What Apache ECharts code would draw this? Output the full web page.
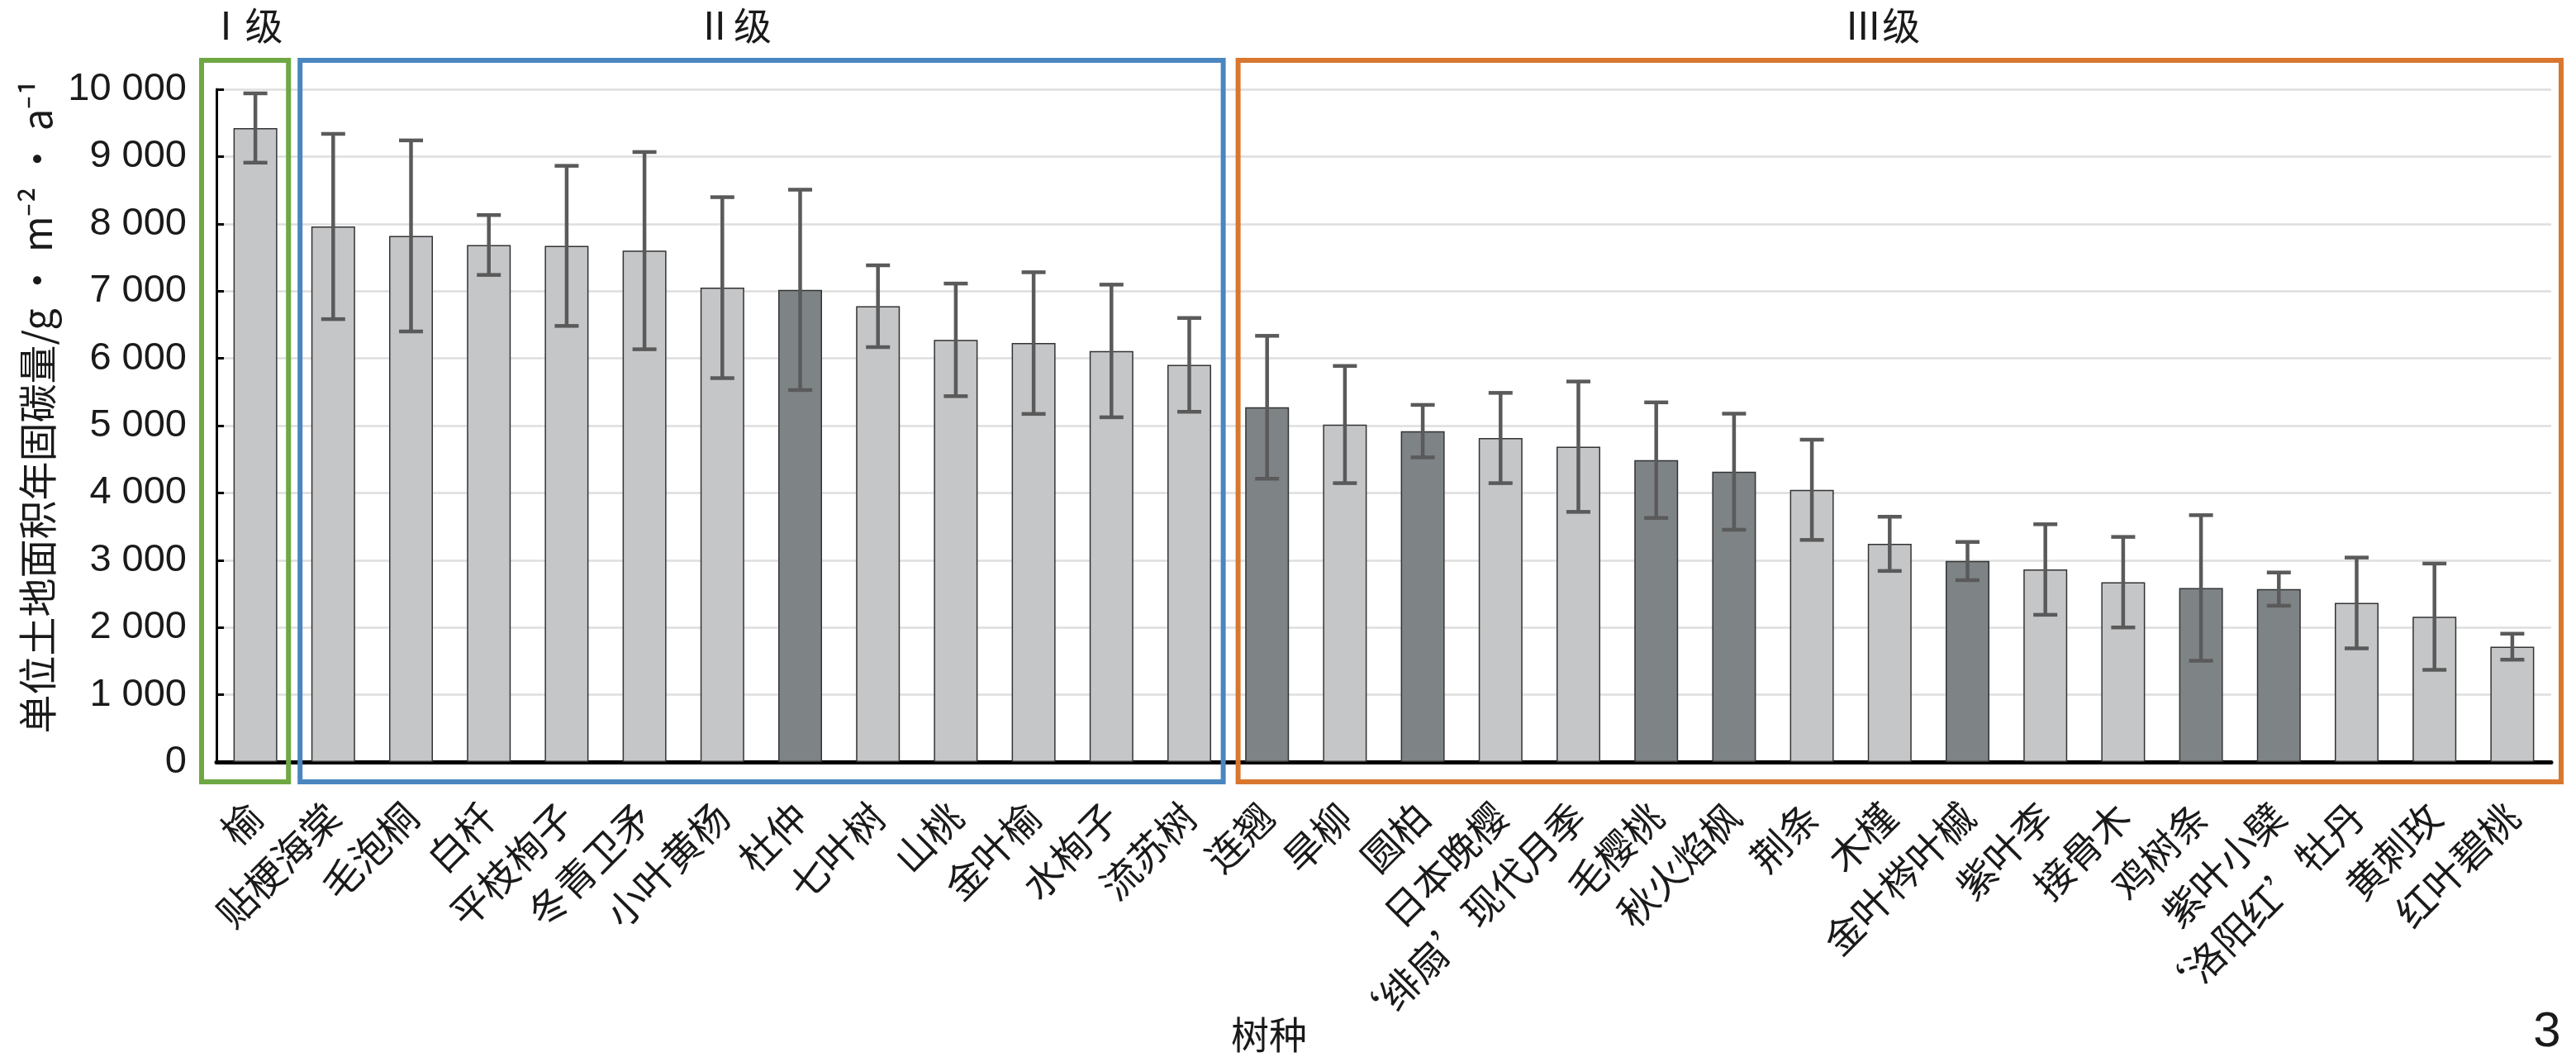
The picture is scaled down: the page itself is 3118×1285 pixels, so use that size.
<!DOCTYPE html>
<html><head><meta charset="utf-8">
<script src="https://cdn.jsdelivr.net/npm/echarts@6/dist/echarts.min.js"></script>
<style>html,body{margin:0;padding:0;background:#fff}#c{width:3118px;height:1285px}</style>
</head><body><div id="c"></div>
<script>
// ---- data ----
const categories = ['榆','贴梗海棠','毛泡桐','白杄','平枝栒子','冬青卫矛','小叶黄杨','杜仲','七叶树','山桃','金叶榆','水栒子','流苏树',
  '连翘','旱柳','圆柏','日本晚樱','‘绯扇’现代月季','毛樱桃','秋火焰枫','荆条','木槿','金叶梣叶槭','紫叶李','接骨木','鸡树条','紫叶小檗','‘洛阳红’牡丹','黄刺玫','红叶碧桃'];
const means  = [9424,7960,7820,7685,7672,7601,7051,7018,6775,6275,6227,6110,5903,
  5273,5016,4918,4816,4687,4487,4315,4046,3243,2987,2861,2673,2587,2570,2364,2160,1714];
const errors = [515,1377,1420,445,1190,1466,1345,1489,608,837,1053,986,697,
  1062,871,390,671,969,859,863,745,403,284,673,673,1082,247,675,790,193];
const shades = ['L','L','L','L','L','L','L','D','L','L','L','L','L',
  'D','L','D','L','L','D','D','L','L','D','L','L','D','D','L','L','L'];
const groupNames = ['Ⅰ级','Ⅱ级','Ⅲ级'];
const groupStart = [0,1,13];
const groupEnd   = [0,12,29];
const groupColors = ['#6ea843','#4a86c0','#d9772f'];
const yMax = 10000, yStep = 1000;

const LIGHT = '#c5c6c8', DARK = '#7e8386';
const CJK = "'Noto Sans CJK SC', sans-serif";
const NUM = "'Liberation Sans Narrow', 'Liberation Sans', sans-serif";

const chart = echarts.init(document.getElementById('c'), null, {renderer:'canvas'});

function fmt(v){ if (v < 1000) return String(v); const s = String(v); return s.slice(0, s.length-3) + ' ' + s.slice(-3); }

chart.setOption({
  backgroundColor:'#fff',
  animation:false,
  grid:{left:262, right:30, top:108, bottom:363, containLabel:false},
  xAxis:{
    type:'category', data:categories,
    axisLine:{show:true, lineStyle:{color:'#000', width:5}},
    axisTick:{show:false},
    axisLabel:{interval:0, rotate:45, margin:58, fontSize:47, fontFamily:CJK, color:'#1a1a1a'},
    splitLine:{show:false}
  },
  yAxis:{
    type:'value', min:0, max:yMax, interval:yStep,
    axisLine:{show:true, lineStyle:{color:'#000', width:3}},
    axisTick:{show:true, inside:true, length:9, lineStyle:{color:'#000', width:3}},
    axisLabel:{margin:36, fontSize:47, fontFamily:NUM, color:'#1a1a1a', formatter:fmt},
    splitLine:{show:true, lineStyle:{color:'#dedede', width:2.5}}
  },
  series:[
    {
      type:'bar', barWidth:53, z:2,
      data: means.map((v,i)=>({value:v, itemStyle:{color: shades[i]==='D'?DARK:LIGHT, borderColor:'#333', borderWidth:1.5}}))
    },
    {
      type:'custom', z:5,
      data: means.map((v,i)=>[i, v-errors[i], v+errors[i]]),
      encode:{x:0, y:[1,2]},
      renderItem:function(params, api){
        const lo = api.coord([api.value(0), api.value(1)]);
        const hi = api.coord([api.value(0), api.value(2)]);
        const x = lo[0], cap = 14.5;
        const st = {stroke:'#5a5a5a', lineWidth:4.5};
        return {type:'group', children:[
          {type:'line', shape:{x1:x, y1:lo[1], x2:x, y2:hi[1]}, style:st},
          {type:'line', shape:{x1:x-cap, y1:hi[1], x2:x+cap, y2:hi[1]}, style:st},
          {type:'line', shape:{x1:x-cap, y1:lo[1], x2:x+cap, y2:lo[1]}, style:st}
        ]};
      }
    }
  ]
});

// decorations positioned from the axes
const xc = i => chart.convertToPixel({xAxisIndex:0}, i);
const yp = v => chart.convertToPixel({yAxisIndex:0}, v);
const half = (xc(1) - xc(0)) / 2;
const yTop = yp(yMax) - 35, yBot = yp(0) + 24;
const padL = [18, -7, -12], padR = [-7, -6, 12];
const labelDx = [0, -34, -21];
const graphics = [];
for (let g = 0; g < groupNames.length; g++) {
  const x1 = xc(groupStart[g]) - half - padL[g];
  const x2 = xc(groupEnd[g]) + half + padR[g];
  graphics.push({type:'rect', z:10, shape:{x:x1, y:yTop, width:x2-x1, height:yBot-yTop},
    style:{fill:'none', stroke:groupColors[g], lineWidth:6}});
  graphics.push({type:'text', z:10, x:(x1+x2)/2 + labelDx[g], y:31,
    style:{text:groupNames[g], fontSize:46, fontFamily:CJK, fill:'#1a1a1a', align:'center', verticalAlign:'middle'}});
}
graphics.push({type:'text', z:10, x:45, y:492, rotation:Math.PI/2,
  style:{text:'单位土地面积年固碳量/g · m⁻² · a⁻¹', fontSize:47, fontFamily:CJK, fill:'#1a1a1a', align:'center', verticalAlign:'middle'}});
graphics.push({type:'text', z:10, x:1536, y:1252,
  style:{text:'树种', fontSize:46, fontFamily:CJK, fill:'#1a1a1a', align:'center', verticalAlign:'middle'}});
graphics.push({type:'text', z:10, x:3083, y:1249,
  style:{text:'3', fontSize:60, fontFamily:NUM, fill:'#1a1a1a', align:'center', verticalAlign:'middle'}});
chart.setOption({graphic:graphics});
</script></body></html>
